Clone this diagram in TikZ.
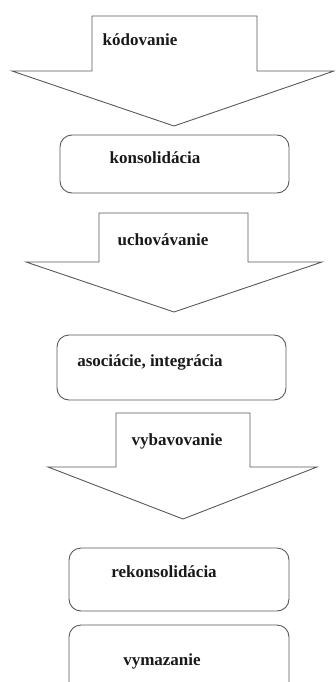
\documentclass[tikz,border=0pt]{standalone}
\usepackage{fontspec}
\setmainfont{Liberation Serif}
\begin{document}
\begin{tikzpicture}[x=1pt,y=-1pt,
  outline/.style={draw=black!65,line width=0.9pt,line join=miter},
  stagebox/.style={outline,rounded corners=12pt},
  label/.style={font=\fontsize{17}{20}\selectfont\bfseries,text=black!90,inner sep=0pt,anchor=base}]
\useasboundingbox (0,0) rectangle (335,682);
\begin{scope}
\clip (0,0) rectangle (335,682);
% block arrows
\draw[outline] (92,16) -- (257,16) -- (257,71) -- (334,71) -- (174,126) -- (12,71) -- (92,71) -- cycle;
\draw[outline] (99,213) -- (248,213) -- (248,262) -- (322,262) -- (174,312) -- (26,262) -- (99,262) -- cycle;
\draw[outline] (116,413) -- (250,413) -- (250,467) -- (317,467) -- (183,519) -- (48,467) -- (116,467) -- cycle;
% stage boxes
\draw[stagebox] (60,135) rectangle (289,193);
\draw[stagebox] (57,335) rectangle (286,400);
\draw[stagebox] (69,548) rectangle (289,611);
\draw[stagebox] (69,625) rectangle (289,700);
\end{scope}
% labels
\node[label] (kod) at (140,45.5) {kódovanie};
\node[label] (uch) at (163,245) {uchovávanie};
\node[label] (vyb) at (177,445) {vybavovanie};
\node[label] (kon) at (155,163) {konsolidácia};
\node[label] (aso) at (150,366) {asociácie, integrácia};
\node[label] (rek) at (164,577) {rekonsolidácia};
\node[label] (vym) at (162,665) {vymazanie};
\end{tikzpicture}
\end{document}
